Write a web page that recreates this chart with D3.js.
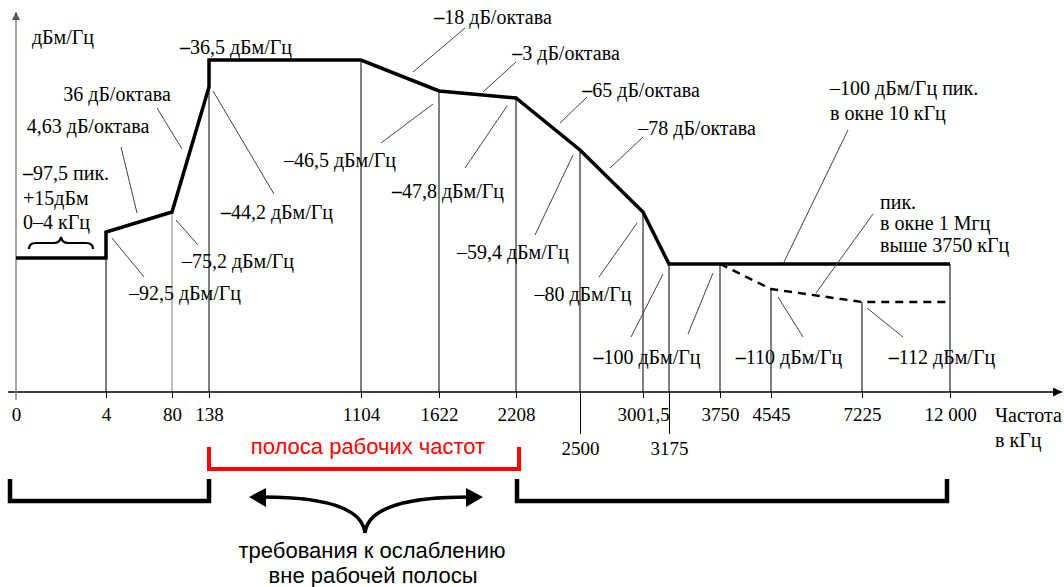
<!DOCTYPE html>
<html>
<head>
<meta charset="utf-8">
<script src="https://cdn.jsdelivr.net/npm/d3@7"></script>
<style>
  body { margin: 0; background: #fff; }
  .serif { font-family: "Liberation Serif", "Times New Roman", serif; font-size: 20px; fill: #000; }
  .sans { font-family: "Liberation Sans", Arial, sans-serif; font-size: 22px; }
</style>
</head>
<body>
<script>
// ---- data ----
// frequency ticks (kHz) and their labels
var freqTicks = [0, 4, 80, 138, 1104, 1622, 2208, 2500, 3001.5, 3175, 3750, 4545, 7225, 12000];
var freqLabels = ["0", "4", "80", "138", "1104", "1622", "2208", "2500", "3001,5", "3175", "3750", "4545", "7225", "12 000"];
var lowTicks = [2500, 3175];   // labels written under the long ticks

// PSD mask (solid line), dBm/Hz
var maskFreq = [0, 4, 4, 80, 138, 138, 1104, 1622, 2208, 2500, 3001.5, 3175, 12000];
var maskPsd = [-97.5, -97.5, -92.5, -75.2, -44.2, -36.5, -36.5, -46.5, -47.8, -59.4, -80, -100, -100];

// peak mask in 1 MHz window (dashed)
var peakFreq = [3750, 4545, 7225, 12000];
var peakPsd = [-100, -110, -112, -112];

// ---- scales (schematic, piecewise) ----
var x = d3.scaleLinear()
    .domain(freqTicks)
    .range([16, 106, 172, 209, 361, 439, 516, 580, 643, 669, 720, 771, 862, 950]);

var yLevels = [-112, -110, -100, -97.5, -92.5, -80, -75.2, -59.4, -47.8, -46.5, -44.2, -36.5];
var y = d3.scaleLinear()
    .domain(yLevels)
    .range([302, 289, 264, 258, 232, 212, 212, 150, 98, 91, 87, 60]);

var axisY = 392;

var svg = d3.select("body").append("svg")
    .attr("width", 1064)
    .attr("height", 587);

var defs = svg.append("defs");
defs.append("marker")
    .attr("id", "arrX")
    .attr("viewBox", "0 0 10 10")
    .attr("refX", 10).attr("refY", 5)
    .attr("markerWidth", 12).attr("markerHeight", 9)
    .attr("markerUnits", "userSpaceOnUse")
    .attr("orient", "auto")
  .append("path").attr("d", "M0,0 L10,5 L0,10 z").attr("fill", "#000");
defs.append("marker")
    .attr("id", "arrY")
    .attr("viewBox", "0 0 10 10")
    .attr("refX", 10).attr("refY", 5)
    .attr("markerWidth", 12).attr("markerHeight", 8)
    .attr("markerUnits", "userSpaceOnUse")
    .attr("orient", "auto")
  .append("path").attr("d", "M0,0 L10,5 L0,10 z").attr("fill", "#555");

// drop lines from the curve to the axis
function levelAt(f) {
  var i = maskFreq.indexOf(f);
  if (i >= 0) return d3.max(maskFreq.map((m, k) => m == f ? maskPsd[k] : -Infinity));
  i = peakFreq.indexOf(f);
  return i >= 0 ? peakPsd[i] : null;
}
svg.append("g").selectAll("line")
  .data(freqTicks.filter(f => f > 0))
  .enter().append("line")
    .attr("x1", d => x(d)).attr("x2", d => x(d))
    .attr("y1", axisY)
    .attr("y2", d => y(levelAt(d)))
    .attr("stroke", d => d == 80 ? "#aaa" : "#000")
    .attr("stroke-width", d => d == 80 ? 1.5 : 1);

// x axis
var xAxis = d3.axisBottom(x)
    .tickValues(freqTicks)
    .tickSize(6)
    .tickSizeOuter(0)
    .tickPadding(7)
    .tickFormat((d, i) => freqLabels[i]);

var gx = svg.append("g")
    .attr("transform", "translate(0," + axisY + ")")
    .call(xAxis);
gx.select(".domain").remove();
gx.attr("font-family", null).attr("font-size", null);
gx.selectAll(".tick line").attr("stroke", "#000")
    .attr("y2", d => lowTicks.includes(d) ? 42 : 6);
gx.selectAll(".tick text")
    .attr("class", "serif")
    .style("font-size", "19px")
    .attr("fill", "#000")
    .attr("y", d => lowTicks.includes(d) ? 50 : 16);
gx.selectAll(".tick").filter(d => d == 0).select("line").remove();

svg.append("line")
    .attr("x1", 8).attr("x2", 1062)
    .attr("y1", axisY).attr("y2", axisY)
    .attr("stroke", "#000").attr("stroke-width", 1.3)
    .attr("marker-end", "url(#arrX)");

// y axis
svg.append("line")
    .attr("x1", x(0)).attr("x2", x(0))
    .attr("y1", axisY + 8).attr("y2", 12)
    .attr("stroke", "#888").attr("stroke-width", 1.5)
    .attr("marker-end", "url(#arrY)");

// mask line
var line = d3.line()
    .x(d => x(d[0]))
    .y(d => y(d[1]));

svg.append("path")
    .datum(d3.zip(maskFreq, maskPsd))
    .attr("fill", "none")
    .attr("stroke", "#000")
    .attr("stroke-width", 3.5)
    .attr("d", line);

svg.append("path")
    .datum(d3.zip(peakFreq, peakPsd))
    .attr("fill", "none")
    .attr("stroke", "#000")
    .attr("stroke-width", 2.4)
    .attr("stroke-dasharray", "8,6")
    .attr("d", line);

// ---- annotations (layout) ----
var leaders = [
  [157, 108, 182, 149], [121, 147, 137, 213], [213, 91, 274, 194], [176, 220, 198, 245],
  [112, 238, 144, 277], [433, 104, 381, 143], [465, 28, 413, 72], [516, 62, 483, 92],
  [507, 106, 465, 168], [587, 97, 560, 123], [643, 137, 610, 168], [573, 155, 535, 235],
  [637, 223, 599, 277], [663, 274, 631, 337], [713, 273, 688, 334], [778, 297, 803, 337],
  [867, 308, 903, 337], [848, 130, 784, 262], [873, 214, 816, 293]
];
svg.append("g").selectAll("line")
  .data(leaders)
  .enter().append("line")
    .attr("x1", d => d[0]).attr("y1", d => d[1])
    .attr("x2", d => d[2]).attr("y2", d => d[3])
    .attr("stroke", "#553a3a").attr("stroke-width", 1);

// [text, x, centre y, anchor, bold dash]
var notes = [
  ["дБм/Гц", 63, 37, "middle", false],
  ["–36,5 дБм/Гц", 236, 47, "middle", true],
  ["36 дБ/октава", 117, 94, "middle", false],
  ["4,63 дБ/октава", 88, 126, "middle", false],
  ["–97,5 пик.", 23, 173, "start", true],
  ["+15дБм", 23, 198, "start", false],
  ["0–4 кГц", 23, 222, "start", false],
  ["–92,5 дБм/Гц", 185, 293, "middle", false],
  ["–75,2 дБм/Гц", 238, 261, "middle", false],
  ["–44,2 дБм/Гц", 277, 212, "middle", true],
  ["–46,5 дБм/Гц", 340, 160, "middle", false],
  ["–18 дБ/октава", 493, 17, "middle", true],
  ["–3 дБ/октава", 566, 53, "middle", true],
  ["–65 дБ/октава", 641, 90, "middle", true],
  ["–78 дБ/октава", 697, 128, "middle", false],
  ["–47,8 дБм/Гц", 448, 191, "middle", true],
  ["–59,4 дБм/Гц", 513, 252, "middle", false],
  ["–80 дБм/Гц", 583, 294, "middle", false],
  ["–100 дБм/Гц", 647, 357, "middle", true],
  ["–110 дБм/Гц", 789, 357, "middle", true],
  ["–112 дБм/Гц", 942, 357, "middle", true],
  ["–100 дБм/Гц пик.", 830, 88, "start", false],
  ["в окне 10 кГц", 830, 113, "start", false],
  ["пик.", 880, 202, "start", false],
  ["в окне 1 Мгц", 880, 223, "start", false],
  ["выше 3750 кГц", 880, 245, "start", false],
  ["Частота", 995, 415, "start", false],
  ["в кГц", 995, 440, "start", false]
];
var noteSel = svg.append("g").selectAll("text")
  .data(notes)
  .enter().append("text")
    .attr("class", "serif")
    .attr("x", d => d[1])
    .attr("y", d => d[2])
    .attr("dy", "0.35em")
    .attr("text-anchor", d => d[3]);
noteSel.each(function(d) {
  var t = d3.select(this);
  if (d[4] && d[0][0] == "–") {
    t.append("tspan").attr("font-weight", "bold").text("–");
    t.append("tspan").text(d[0].slice(1));
  } else {
    t.text(d[0]);
  }
});

// brace over 0-4 kHz
svg.append("path")
    .attr("d", "M29,249 Q29,243 36,243 L54,243 Q60,243 61,237 Q62,243 68,243 L86,243 Q93,243 93,249")
    .attr("fill", "none").attr("stroke", "#000").attr("stroke-width", 2.2);

// ---- bottom brackets ----
svg.append("path")
    .attr("d", "M" + x(138) + ",447 V469 H" + (x(2208) + 3) + " V447")
    .attr("fill", "none").attr("stroke", "#f00").attr("stroke-width", 4);
svg.append("text")
    .attr("class", "sans")
    .attr("x", 368).attr("y", 446).attr("dy", "0.35em")
    .attr("text-anchor", "middle").attr("fill", "#f00")
    .text("полоса рабочих частот");

svg.append("path")
    .attr("d", "M10,479 V501 H" + x(138) + " V479")
    .attr("fill", "none").attr("stroke", "#000").attr("stroke-width", 4.5);
svg.append("path")
    .attr("d", "M" + (x(2208) + 1) + ",479 V501 H" + (x(12000) - 3) + " V479")
    .attr("fill", "none").attr("stroke", "#000").attr("stroke-width", 4.5);

// curved double arrow
svg.append("path")
    .attr("d", "M365,533 C362,506 320,497 262,497")
    .attr("fill", "none").attr("stroke", "#000").attr("stroke-width", 3.5);
svg.append("path")
    .attr("d", "M365,533 C368,506 410,497 470,497")
    .attr("fill", "none").attr("stroke", "#000").attr("stroke-width", 3.5);
svg.append("path").attr("d", "M249,497 L266,488 L266,507 z").attr("fill", "#000");
svg.append("path").attr("d", "M483,497 L466,488 L466,507 z").attr("fill", "#000");

svg.append("text")
    .attr("class", "sans")
    .attr("x", 372).attr("y", 550).attr("dy", "0.35em")
    .attr("text-anchor", "middle").attr("fill", "#000")
    .text("требования к ослаблению");
svg.append("text")
    .attr("class", "sans")
    .attr("x", 373).attr("y", 575).attr("dy", "0.35em")
    .attr("text-anchor", "middle").attr("fill", "#000")
    .text("вне рабочей полосы");
</script>
</body>
</html>
